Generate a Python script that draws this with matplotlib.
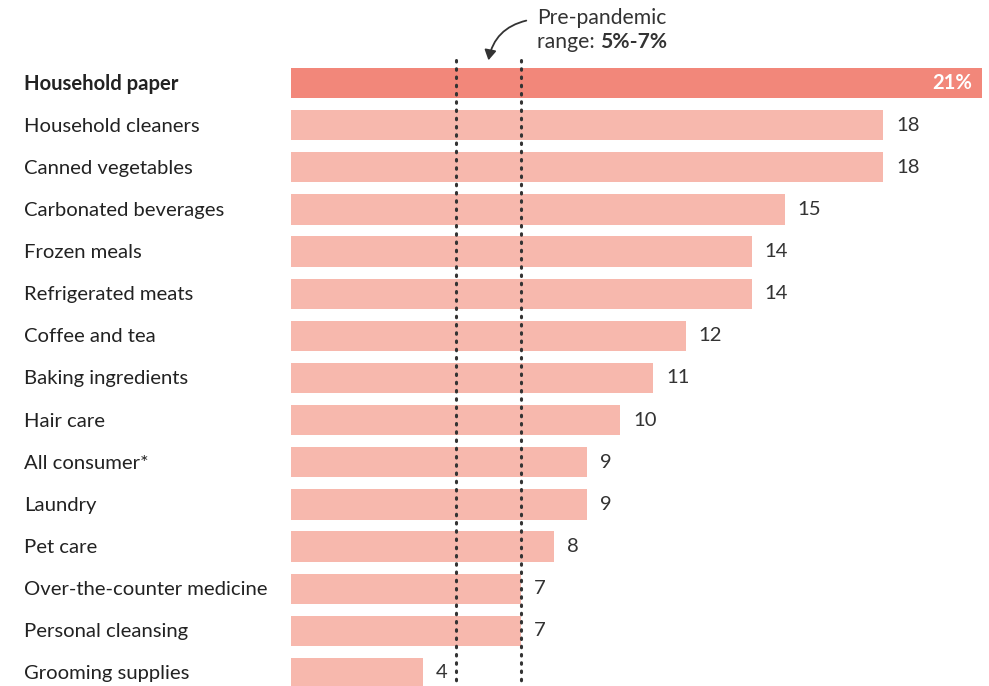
import matplotlib.pyplot as plt
from matplotlib.patches import FancyArrowPatch

categories = ['Household paper', 'Household cleaners', 'Canned vegetables',
              'Carbonated beverages', 'Frozen meals', 'Refrigerated meats',
              'Coffee and tea', 'Baking ingredients', 'Hair care',
              'All consumer*', 'Laundry', 'Pet care',
              'Over-the-counter medicine', 'Personal cleansing',
              'Grooming supplies']
values = [21, 18, 18, 15, 14, 14, 12, 11, 10, 9, 9, 8, 7, 7, 4]
prepandemic_range = [5, 7]

W, H = 989, 686
fig = plt.figure(figsize=(W / 100, H / 100), dpi=100)
x0 = 291
px_per_unit = (982 - 291) / 21
ax = fig.add_axes([x0 / W, 0, 1 - x0 / W, 1])
ax.set_xlim(0, (W - x0) / px_per_unit)
row = 42.14
ax.set_ylim((H - 83) / row, -83 / row)
ax.axis('off')

font = 'Lato'
txt = '#333333'
fs = 14.6

for i, (cat, v) in enumerate(zip(categories, values)):
    top = i == 0
    ax.barh(i, v, height=0.72, color='#f2877a' if top else '#f7b8ad', zorder=1)
    fig.text(24 / W, 1 - (84 + row * i) / H, cat, fontsize=fs, family=font,
             color='#222222', va='center', fontweight='bold' if top else 'normal')
    if top:
        ax.text(v - 10 / px_per_unit, i, f'{v}%', fontsize=fs, family=font,
                color='white', fontweight='bold', ha='right', va='center')
    else:
        ax.text(v + 13 / px_per_unit, i, str(v), fontsize=fs, family=font,
                color=txt, ha='left', va='center')

y_start = (60 - 83) / row
for xv in prepandemic_range:
    ax.plot([xv, xv], [y_start, (H - 83) / row], color='#333333', lw=2.2,
            linestyle=(0, (0.5, 2.2)), dash_capstyle='round', zorder=3)

# annotation
t1 = fig.text(537 / W, 1 - 18 / H, 'Pre-pandemic', fontsize=15.2, family=font,
              color=txt, va='center')
t2 = fig.text(537 / W, 1 - 42 / H, 'range: ', fontsize=15.2, family=font,
              color=txt, va='center')
ax.annotate('5%-7%', xy=(1, 0), xycoords=t2, fontsize=15.2, family=font,
            color=txt, fontweight='bold', va='bottom')
arrow = FancyArrowPatch((529 / W, 1 - 20 / H), (488 / W, 1 - 63 / H),
                        transform=fig.transFigure,
                        connectionstyle='arc3,rad=0.35',
                        arrowstyle='-|>,head_length=6,head_width=3.5',
                        color='#333333', lw=1.3)
fig.patches.append(arrow)

fig.savefig('out.png', dpi=100, facecolor='white')
